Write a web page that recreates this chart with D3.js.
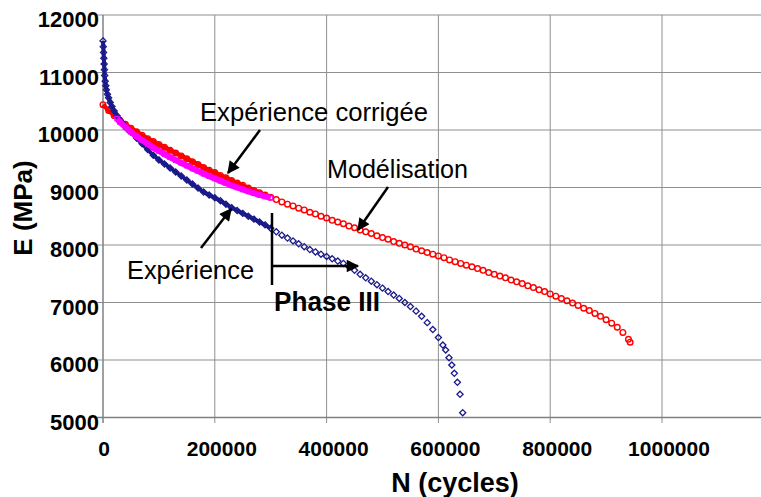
<!DOCTYPE html>
<html lang="fr">
<head>
  <meta charset="UTF-8" />
  <title>Module E en fonction de N</title>
  <script src="https://d3js.org/d3.v7.min.js"></script>
  <style>
    body { margin: 0; background: #fff; }
    text { font-family: "Liberation Sans", Arial, sans-serif; }
  </style>
</head>
<body>
  <svg id="chart" width="761" height="497"></svg>

  <script>
    // N en milliers de cycles, E en MPa
    const modelN = [0,10,20,30,40,50,60,70,80,90,100,110,120,130,140,150,160,170,180,190,
      200,210,220,230,240,250,260,270,280,290,300,310,320,330,340,350,360,370,380,390,
      400,410,420,430,440,450,460,470,480,490,500,510,520,530,540,550,560,570,580,590,
      600,610,620,630,640,650,660,670,680,690,700,710,720,730,740,750,760,770,780,790,
      800,810,820,830,840,850,860,870,880,890,900,910,920,930,940,943];
    const modelE = [10440,10340,10250,10170,10100,10030,9970,9910,9850,9800,9750,9700,9650,9600,9550,9500,9450,9400,9350,9300,
      9260,9210,9170,9120,9080,9040,8990,8950,8910,8870,8830,8790,8750,8710,8680,8640,8610,8570,8540,8500,
      8470,8430,8400,8370,8330,8300,8260,8230,8200,8160,8130,8100,8060,8030,8000,7970,7930,7900,7870,7840,
      7810,7780,7740,7710,7680,7650,7620,7590,7560,7520,7490,7460,7430,7390,7360,7330,7290,7260,7220,7190,
      7150,7110,7070,7030,6990,6950,6900,6860,6810,6760,6700,6640,6570,6480,6360,6310];

    const expN = [0,0.5,1,1.5,2,2.5,3,4,5,6,8,10,13,16,20,25,30,35,40,45,50,60,70,80,90,
      100,110,120,130,140,150,160,170,180,190,200,210,220,230,240,250,260,270,280,290,
      300,310,320,330,340,350,360,370,380,390,400,410,420,430,440,450,460,470,480,490,
      500,510,520,530,540,550,560,570,580,590,600,608,613,619,624,628.5,634,638.7,643.5];
    const expE = [11550,11450,11350,11250,11150,11050,10950,10850,10770,10700,10620,10560,10480,10410,10330,10250,10180,10120,10060,10000,9960,9860,9760,9660,9560,
      9480,9410,9340,9270,9200,9130,9060,8990,8920,8870,8820,8770,8710,8650,8600,8550,8500,8450,8400,8350,
      8290,8230,8170,8120,8070,8020,7970,7920,7880,7840,7800,7760,7720,7680,7620,7560,7490,7430,7370,7310,
      7250,7190,7130,7070,7000,6930,6850,6760,6650,6530,6390,6260,6174,6040,5913,5768,5612,5404,5084];

    const corrN = [25,30,40,50,60,70,80,90,100,110,120,130,140,150,160,170,180,190,200,
      210,220,230,240,250,260,270,280,290,300];
    const corrE = [10200,10140,10050,9965,9890,9820,9755,9690,9635,9580,9525,9475,9425,9380,9330,9285,9240,9195,9155,
      9115,9075,9035,9000,8965,8930,8900,8870,8845,8820];

    const xTicks = [0,200000,400000,600000,800000,1000000];
    const yTicks = [5000,6000,7000,8000,9000,10000,11000,12000];

    const svg = d3.select("#chart");
    const x = d3.scaleLinear().domain([0, 1200000]).range([103, 773.8]);
    const y = d3.scaleLinear().domain([5000, 12000]).range([417.5, 15]);

    const toPts = (ns, es) => ns.map((n, i) => ({ n: n * 1000, e: es[i] }));
    const model = toPts(modelN, modelE);
    const exp = toPts(expN, expE);
    const corr = toPts(corrN, corrE);

    // grille
    const grid = svg.append("g").attr("stroke", "#8f8f8f").attr("stroke-width", 1);
    grid.selectAll("line.h").data(yTicks).join("line")
      .attr("x1", 97).attr("x2", 761)
      .attr("y1", d => y(d)).attr("y2", d => y(d));
    grid.selectAll("line.v").data(xTicks.slice(1)).join("line")
      .attr("x1", d => x(d)).attr("x2", d => x(d))
      .attr("y1", 15).attr("y2", 423);
    svg.append("line").attr("x1", x(0)).attr("x2", x(0)).attr("y1", 15).attr("y2", 423)
      .attr("stroke", "#808080").attr("stroke-width", 1.5);
    svg.append("line").attr("x1", 97).attr("x2", 761).attr("y1", y(5000)).attr("y2", y(5000))
      .attr("stroke", "#808080").attr("stroke-width", 1.5);

    // libellés des axes
    svg.append("g").selectAll("text").data(yTicks).join("text")
      .attr("x", 99).attr("y", d => y(d) + 12)
      .attr("text-anchor", "end").attr("font-size", 22).attr("font-weight", "bold")
      .text(d => d);
    svg.append("g").selectAll("text").data(xTicks).join("text")
      .attr("x", d => x(d) + (d ? 7 : 1)).attr("y", 456)
      .attr("text-anchor", "middle").attr("font-size", 21).attr("font-weight", "bold")
      .text(d => d);

    svg.append("text").attr("x", 455).attr("y", 492).attr("text-anchor", "middle")
      .attr("font-size", 27).attr("font-weight", "bold").text("N (cycles)");
    svg.append("text").attr("transform", "translate(32,208) rotate(-90)").attr("text-anchor", "middle")
      .attr("font-size", 26).attr("font-weight", "bold").text("E (MPa)");

    const line = d3.line().x(d => x(d.n)).y(d => y(d.e));

    // Modélisation (cercles rouges)
    svg.append("path").datum(model.filter(d => d.n <= 300000))
      .attr("d", line).attr("fill", "none").attr("stroke", "#ff0000").attr("stroke-width", 4.5);
    svg.append("g").selectAll("circle").data(model).join("circle")
      .attr("cx", d => x(d.n)).attr("cy", d => y(d.e)).attr("r", 2.8)
      .attr("fill", "none").attr("stroke", "#ff0000").attr("stroke-width", 1.4);

    // Expérience (losanges bleus)
    svg.append("path").datum(exp.filter(d => d.n <= 300000))
      .attr("d", line).attr("fill", "none").attr("stroke", "#1a1a8a").attr("stroke-width", 4);
    svg.append("g").selectAll("path").data(exp).join("path")
      .attr("d", d3.symbol(d3.symbolDiamond2, 24))
      .attr("transform", d => `translate(${x(d.n)},${y(d.e)})`)
      .attr("fill", "none").attr("stroke", "#1a1a8a").attr("stroke-width", 1.3);

    // Expérience corrigée (magenta)
    svg.append("path").datum(corr)
      .attr("d", line).attr("fill", "none").attr("stroke", "#ff00ff").attr("stroke-width", 6);
    svg.append("g").selectAll("path").data(corr).join("path")
      .attr("d", d3.symbol(d3.symbolSquare2, 22))
      .attr("transform", d => `translate(${x(d.n)},${y(d.e)})`)
      .attr("fill", "none").attr("stroke", "#ff00ff").attr("stroke-width", 1.3);

    // annotations
    const defs = svg.append("defs");
    defs.append("marker").attr("id", "head").attr("viewBox", "0 0 10 10")
      .attr("refX", 9).attr("refY", 5).attr("markerWidth", 6).attr("markerHeight", 5)
      .attr("markerUnits", "strokeWidth").attr("orient", "auto")
      .append("path").attr("d", "M0,0L10,5L0,10z").attr("fill", "#000");

    const arrows = [
      [260, 130, 228, 173],
      [388, 187, 358, 230],
      [201, 248, 231, 209],
      [272, 266, 358, 266]
    ];
    svg.append("g").selectAll("line").data(arrows).join("line")
      .attr("x1", d => d[0]).attr("y1", d => d[1]).attr("x2", d => d[2]).attr("y2", d => d[3])
      .attr("stroke", "#000").attr("stroke-width", 2.5).attr("marker-end", "url(#head)");
    svg.append("line").attr("x1", 272).attr("x2", 272).attr("y1", 213).attr("y2", 285)
      .attr("stroke", "#000").attr("stroke-width", 2.5);

    const labels = [
      { t: "Expérience corrigée", x: 200, y: 121, w: 228 },
      { t: "Modélisation", x: 327, y: 178, w: 141 },
      { t: "Expérience", x: 127, y: 279, w: 127 }
    ];
    svg.append("g").selectAll("text").data(labels).join("text")
      .attr("x", d => d.x).attr("y", d => d.y).attr("font-size", 25)
      .attr("textLength", d => d.w).attr("lengthAdjust", "spacingAndGlyphs")
      .text(d => d.t);
    svg.append("text").attr("x", 274).attr("y", 311).attr("font-size", 27).attr("font-weight", "bold")
      .attr("textLength", 106).attr("lengthAdjust", "spacingAndGlyphs").text("Phase III");
  </script>
</body>
</html>
